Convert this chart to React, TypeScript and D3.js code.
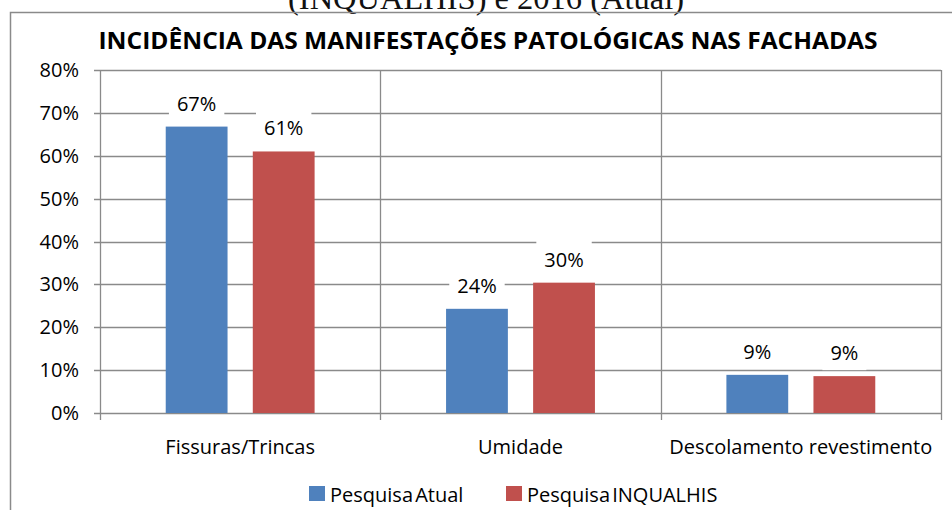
import * as d3 from "d3";
import { useEffect, useRef } from "react";

const categories = ["Fissuras/Trincas", "Umidade", "Descolamento revestimento"];
const seriesNames = ["Pesquisa Atual", "Pesquisa INQUALHIS"];
const atualValues = [66.8, 24.3, 8.9];
const inqualhisValues = [61.0, 30.4, 8.6];
const yTicks = [0, 10, 20, 30, 40, 50, 60, 70, 80];
const seriesColors = ["#4F81BD", "#C0504D"];

const chartTitle = "INCIDÊNCIA DAS MANIFESTAÇÕES PATOLÓGICAS NAS FACHADAS";
const captionText = "(INQUALHIS) e 2016 (Atual)";

const FONT = "'Open Sans', 'Noto Sans', sans-serif";
const GRID = "#8a8a8a";
const FS = 20;

export default function App() {
  const svgRef = useRef<SVGSVGElement>(null);

  useEffect(() => {
    if (!svgRef.current) return;
    document.body.style.margin = "0";
    const svg = d3.select(svgRef.current);
    svg.selectAll("*").remove();

    const width = 952;
    const height = 510;
    const margin = { top: 70, right: 11, bottom: 97, left: 100 };
    const innerWidth = width - margin.left - margin.right;
    const innerHeight = height - margin.top - margin.bottom;

    svg.append("rect").attr("width", width).attr("height", height).attr("fill", "white");

    // caption cut off at the top of the page
    svg
      .append("text")
      .attr("x", 486)
      .attr("y", 9)
      .attr("text-anchor", "middle")
      .attr("font-family", "'Liberation Serif', 'DejaVu Serif', serif")
      .attr("font-size", 32)
      .attr("fill", "#111")
      .attr("textLength", 396)
      .attr("lengthAdjust", "spacingAndGlyphs")
      .text(captionText);

    // chart area border
    svg
      .append("rect")
      .attr("x", 10.5)
      .attr("y", 12.5)
      .attr("width", 980)
      .attr("height", 540)
      .attr("fill", "none")
      .attr("stroke", GRID)
      .attr("stroke-width", 1.5);

    svg
      .append("text")
      .attr("x", 488)
      .attr("y", 49)
      .attr("text-anchor", "middle")
      .attr("font-family", FONT)
      .attr("font-weight", 700)
      .attr("font-size", 23)
      .attr("fill", "#000")
      .attr("textLength", 779)
      .attr("lengthAdjust", "spacingAndGlyphs")
      .text(chartTitle);

    const g = svg
      .append("g")
      .attr("transform", `translate(${margin.left},${margin.top})`);

    const x0 = d3.scaleBand().domain(categories).range([0, innerWidth]).padding(0);
    const x1 = d3
      .scaleBand()
      .domain(seriesNames)
      .range([0, x0.bandwidth()])
      .paddingInner(0.29)
      .paddingOuter(0.755);
    const y = d3.scaleLinear().domain([0, 80]).range([innerHeight, 0]);

    // horizontal grid lines
    g.selectAll(".hgrid")
      .data(yTicks)
      .enter()
      .append("line")
      .attr("x1", -6)
      .attr("x2", innerWidth)
      .attr("y1", (d) => Math.round(y(d)) + 0.5)
      .attr("y2", (d) => Math.round(y(d)) + 0.5)
      .attr("stroke", GRID)
      .attr("stroke-width", 1.3);

    // vertical lines at category boundaries
    const bounds = categories.map((c) => x0(c)!).concat([innerWidth]);
    g.selectAll(".vgrid")
      .data(bounds)
      .enter()
      .append("line")
      .attr("x1", (d) => Math.round(d) + 0.5)
      .attr("x2", (d) => Math.round(d) + 0.5)
      .attr("y1", 0)
      .attr("y2", innerHeight + 7)
      .attr("stroke", GRID)
      .attr("stroke-width", 1.3);

    // y tick labels
    g.selectAll(".ylab")
      .data(yTicks)
      .enter()
      .append("text")
      .attr("x", -21)
      .attr("y", (d) => y(d) + 7)
      .attr("text-anchor", "end")
      .attr("font-family", FONT)
      .attr("font-size", FS)
      .attr("fill", "#000")
      .text((d) => `${d}%`);

    // category labels
    g.selectAll(".xlab")
      .data(categories)
      .enter()
      .append("text")
      .attr("x", (d) => x0(d)! + x0.bandwidth() / 2)
      .attr("y", innerHeight + 41)
      .attr("text-anchor", "middle")
      .attr("font-family", FONT)
      .attr("font-size", FS)
      .attr("fill", "#000")
      .text((d) => d);

    const rows = categories.flatMap((c, i) => [
      { cat: c, series: seriesNames[0], value: atualValues[i], color: seriesColors[0] },
      { cat: c, series: seriesNames[1], value: inqualhisValues[i], color: seriesColors[1] },
    ]);

    g.selectAll(".bar")
      .data(rows)
      .enter()
      .append("rect")
      .attr("x", (d) => x0(d.cat)! + x1(d.series)!)
      .attr("y", (d) => y(d.value))
      .attr("width", x1.bandwidth())
      .attr("height", (d) => innerHeight - y(d.value))
      .attr("fill", (d) => d.color);

    // data labels with white boxes
    const labels = g
      .selectAll(".lbl")
      .data(rows)
      .enter()
      .append("g")
      .attr(
        "transform",
        (d) => `translate(${x0(d.cat)! + x1(d.series)! + x1.bandwidth() / 2},${y(d.value)})`
      );

    const boxes = labels.append("rect").attr("fill", "white");
    const texts = labels
      .append("text")
      .attr("y", -16)
      .attr("text-anchor", "middle")
      .attr("font-family", FONT)
      .attr("font-size", FS)
      .attr("fill", "#000")
      .text((d) => `${Math.round(d.value)}%`);

    texts.each(function (_, i) {
      const w = (this as SVGTextElement).getComputedTextLength();
      d3.select(boxes.nodes()[i])
        .attr("x", -w / 2 - 8)
        .attr("width", w + 16)
        .attr("y", -44)
        .attr("height", 38);
    });

    // legend
    const legendItems = [
      { name: seriesNames[0], color: seriesColors[0], x: 309 },
      { name: seriesNames[1], color: seriesColors[1], x: 506 },
    ];
    const legend = svg
      .selectAll(".legend")
      .data(legendItems)
      .enter()
      .append("g")
      .attr("transform", (d) => `translate(${d.x},486)`);
    legend
      .append("rect")
      .attr("width", 16)
      .attr("height", 15)
      .attr("fill", (d) => d.color);
    legend
      .append("text")
      .attr("x", 21)
      .attr("y", 15.5)
      .attr("font-family", FONT)
      .attr("font-size", FS)
      .attr("word-spacing", -3)
      .attr("fill", "#000")
      .text((d) => d.name);
  }, []);

  return (
    <svg
      ref={svgRef}
      width={952}
      height={510}
      style={{ position: "absolute", left: 0, top: 0, display: "block" }}
    />
  );
}
